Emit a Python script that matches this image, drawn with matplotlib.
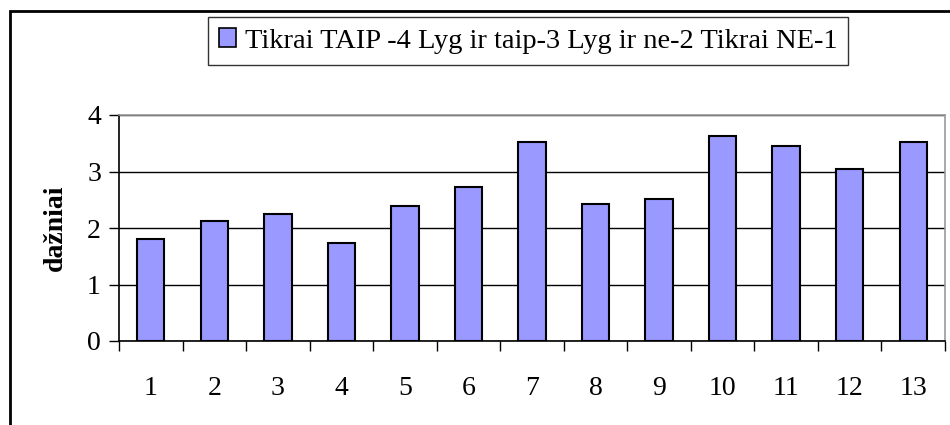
import matplotlib
matplotlib.use("Agg")
import matplotlib.pyplot as plt
from matplotlib.patches import Rectangle, Patch
import numpy as np

# values
categories = ["1", "2", "3", "4", "5", "6", "7", "8", "9", "10", "11", "12", "13"]
dazniai = [1.81, 2.12, 2.25, 1.74, 2.39, 2.73, 3.52, 2.42, 2.52, 3.62, 3.45, 3.04, 3.52]
legend_label = "Tikrai TAIP -4 Lyg ir taip-3 Lyg ir ne-2 Tikrai NE-1"

plt.rcParams['font.family'] = ['Liberation Serif', 'DejaVu Serif']

W, H = 950, 425
fig = plt.figure(figsize=(W / 100, H / 100), dpi=100)
ax = fig.add_axes([119 / W, 1 - 341 / H, (945 - 119) / W, (341 - 115) / H])

x = np.arange(len(categories))
ax.bar(x, dazniai, width=0.43, color="#9999FF", edgecolor="black", linewidth=1.5, zorder=3)

ax.set_xlim(-0.5, len(categories) - 0.5)
ax.set_ylim(0, 4)
ax.set_yticks([0, 1, 2, 3, 4])
ax.yaxis.grid(True, color="black", linewidth=1.0, zorder=0)
ax.set_axisbelow(True)

# category ticks between bars, labels centred under bars
ax.set_xticks(np.arange(-0.5, len(categories), 1.0))
ax.set_xticklabels([])
ax.set_xticks(x, minor=True)
ax.set_xticklabels(categories, minor=True)
ax.tick_params(axis="x", which="major", direction="out", length=7, width=1)
ax.tick_params(axis="x", which="minor", length=0, pad=25, labelsize=20)
ax.tick_params(axis="y", direction="out", length=7, width=1, labelsize=20, pad=6)

ax.spines["left"].set_color("black")
ax.spines["bottom"].set_color("black")
ax.spines["top"].set_color("#999999")
ax.spines["right"].set_color("#999999")
for s in ax.spines.values():
    s.set_linewidth(1.2)

ax.set_ylabel("dažniai", fontsize=20, fontweight="bold", labelpad=14)

handle = Patch(facecolor="#9999FF", edgecolor="black", linewidth=1.2)
leg = fig.legend([handle], [legend_label], loc="center",
                 bbox_to_anchor=(528 / W, 1 - 41 / H), fontsize=20.5,
                 frameon=True, fancybox=False, edgecolor="black",
                 handlelength=0.6, handleheight=0.6, handletextpad=0.3,
                 borderpad=0.4, borderaxespad=0)
leg.get_frame().set_linewidth(1.0)

# outer chart border (cropped on right/bottom)
fig.patches.append(Rectangle((10 / W, -0.1), 1.2, (H - 11) / H + 0.1,
                             transform=fig.transFigure, fill=False,
                             edgecolor="black", linewidth=2))

fig.savefig("out.png", dpi=100)
